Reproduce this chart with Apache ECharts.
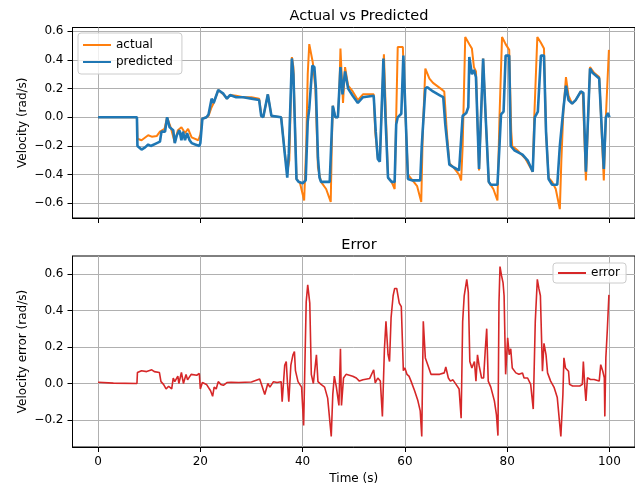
<!DOCTYPE html>
<html>
<head>
<meta charset="utf-8">
<script src="https://cdn.jsdelivr.net/npm/echarts@6/dist/echarts.min.js"></script>
<style>
html,body{margin:0;padding:0;background:#fff}
#main{width:635px;height:486px}
</style>
</head>
<body>
<div id="main"></div>
<script>
// values
var tActual = [0,7.6,7.7,8.5,9.8,10.5,11.5,12.1,13.0,13.5,14.2,15.0,15.6,16.3,17.0,17.6,18.3,19.6,20.0,20.4,21.2,21.6,22.2,22.6,23.5,24.5,25.2,25.8,27.0,28.4,30.0,31.5,31.9,32.3,33.2,33.9,35.8,36.5,37.0,37.4,37.9,38.2,38.8,39.5,40.3,40.7,41.0,41.3,41.6,42.0,42.5,43.0,43.6,44.6,45.5,45.7,45.9,46.4,46.9,47.2,47.4,47.7,47.9,48.3,48.9,49.8,50.8,51.8,53.9,54.2,54.7,55.1,55.5,55.9,56.3,56.7,57.4,58.0,58.3,58.6,59.6,59.9,60.6,61.5,62.4,63.2,63.5,64.0,64.8,65.5,67.0,67.7,68.2,68.7,69.5,70.6,71.0,71.3,71.8,72.6,73.1,73.5,73.9,74.5,75.0,75.3,75.8,76.4,77.3,78.1,78.5,79.0,79.7,80.4,80.8,81.0,82.0,83.6,85.0,85.3,85.9,86.6,87.2,87.6,88.1,88.8,89.5,90.3,90.6,91.0,91.5,92.0,92.7,93.4,94.4,94.8,95.4,96.2,97.0,98.0,98.9,99.3,99.9]
var actual = [0,0,-0.15,-0.16,-0.125,-0.135,-0.13,-0.10,-0.08,0.0,-0.07,-0.175,-0.09,-0.07,-0.11,-0.08,-0.14,-0.16,-0.12,-0.01,0.0,0.01,0.07,0.10,0.19,0.16,0.13,0.155,0.15,0.14,0.14,0.13,0.02,0.0,0.16,0.01,0.0,-0.24,-0.38,-0.30,0.42,0.35,-0.43,-0.46,-0.58,-0.20,0.30,0.51,0.51,0.38,0.20,-0.35,-0.45,-0.50,-0.59,-0.20,0.08,0.0,0.0,0.20,0.48,0.25,0.10,0.35,0.22,0.18,0.12,0.16,0.16,-0.10,-0.28,-0.30,0.10,0.44,0.0,-0.42,-0.45,-0.50,0.0,0.49,0.49,0.20,-0.40,-0.44,-0.48,-0.59,-0.10,0.34,0.27,0.24,0.20,0.18,-0.10,-0.32,-0.35,-0.40,-0.44,-0.20,0.56,0.51,0.48,0.35,0.32,-0.37,0.10,0.41,0.0,-0.45,-0.50,-0.58,0.0,0.56,0.51,0.47,-0.10,-0.20,-0.23,-0.29,-0.38,0.0,0.56,0.52,0.48,-0.10,-0.42,-0.45,-0.50,-0.64,-0.30,0.05,0.28,0.15,0.095,0.12,0.18,0.16,-0.44,0.35,0.31,0.28,-0.44,0.0,0.47]

var tPred = [0,7.6,7.7,8.5,9.2,9.8,10.3,11.5,12.1,12.4,13.1,13.5,14.0,14.7,15.0,15.4,15.9,16.3,16.6,17.0,17.4,17.9,18.3,19.0,19.8,20.0,20.4,21.2,21.6,22.2,22.6,23.5,24.5,25.2,25.8,27.0,28.4,30.0,31.5,31.9,32.3,33.2,33.9,35.8,36.5,37.0,37.3,37.9,38.2,38.8,39.2,40.0,40.6,41.0,41.3,41.6,41.9,42.3,42.6,43.0,43.3,43.6,45.3,45.9,46.4,46.9,47.4,47.8,48.3,48.9,49.8,50.8,51.8,53.9,54.3,54.7,55.1,55.5,55.8,56.2,56.7,57.4,58.0,58.3,58.6,59.3,59.7,60.0,60.6,61.5,63.0,63.3,64.0,64.4,65.5,67.0,67.5,67.9,68.7,69.6,70.6,71.3,72.0,72.4,72.6,73.1,73.5,73.9,74.5,75.3,75.8,76.4,76.8,78.1,78.5,78.8,79.3,79.7,80.4,80.7,81.4,83.0,84.0,85.0,85.4,86.0,86.6,87.2,87.6,88.1,88.8,89.8,90.3,91.0,91.5,92.0,92.7,93.4,94.4,94.9,95.4,96.2,96.7,98.0,98.9,99.3,99.7,100]
var predicted = [0,0,-0.20,-0.225,-0.21,-0.19,-0.20,-0.18,-0.17,-0.10,-0.10,0.0,-0.07,-0.09,-0.18,-0.125,-0.09,-0.16,-0.10,-0.16,-0.11,-0.16,-0.18,-0.19,-0.20,-0.18,-0.01,0.0,0.02,0.13,0.10,0.19,0.165,0.13,0.155,0.14,0.14,0.13,0.12,0.01,0.0,0.16,0.01,0.0,-0.25,-0.42,-0.25,0.41,0.30,-0.43,-0.45,-0.46,-0.44,-0.03,0.06,0.07,0.36,0.35,0.20,-0.28,-0.42,-0.45,-0.45,0.08,0.0,0.0,0.35,0.16,0.32,0.20,0.15,0.10,0.14,0.15,-0.10,-0.29,-0.31,0.10,0.41,0.0,-0.42,-0.45,-0.45,-0.05,0.0,0.025,0.43,0.43,-0.43,-0.44,-0.44,-0.20,0.20,0.21,0.18,0.15,0.14,-0.05,-0.33,-0.35,-0.37,0.01,0.03,0.07,0.42,0.30,0.33,0.28,-0.36,0.41,0.0,-0.45,-0.47,-0.47,-0.20,0.02,0.04,0.43,0.43,-0.20,-0.23,-0.26,-0.30,-0.38,0.0,0.04,0.43,0.43,-0.10,-0.43,-0.47,-0.47,-0.20,0.06,0.22,0.12,0.095,0.12,0.18,0.17,-0.38,0.34,0.31,0.27,-0.36,0.0,0.03,0.0]

var tErr = [0,3,7.6,7.7,8.5,9.5,10.5,11.0,12.0,12.3,12.8,13.3,13.8,14.4,14.7,15.0,15.6,15.8,16.3,16.7,17.2,17.5,18.2,19.3,19.8,20.0,20.4,21.2,21.5,22.0,22.4,22.7,23.1,23.5,24.0,24.5,25.2,26.0,27.5,30.0,31.6,31.9,32.6,33.2,33.6,34.3,35.0,35.8,36.0,36.5,36.8,37.0,37.3,37.7,38.1,38.4,38.6,39.1,39.8,40.2,40.7,41.0,41.4,41.7,42.1,42.7,43.0,43.6,44.3,44.9,45.6,45.9,46.2,46.6,47.1,47.4,47.6,48.0,48.5,49.8,50.5,51.1,51.8,53.1,53.9,54.2,54.7,55.2,55.6,56.0,56.3,56.7,57.0,57.3,57.7,58.0,58.4,58.9,59.3,59.7,60.0,60.4,60.8,61.2,61.9,62.5,63.0,63.3,63.6,64.0,64.5,65.1,65.8,66.8,67.7,68.0,68.5,68.9,69.4,70.0,70.6,71.0,71.3,71.6,72.1,72.4,72.7,73.1,73.6,73.9,74.2,74.5,75.0,75.4,75.7,76.0,76.3,76.8,77.5,77.9,78.2,78.4,78.6,78.9,79.2,79.4,79.7,80.1,80.4,80.7,81.0,81.7,82.3,83.0,83.3,84.0,84.6,85.1,85.5,85.9,86.2,86.5,86.9,87.2,87.6,87.9,88.5,89.2,89.8,90.5,90.9,91.1,91.4,92.0,92.2,92.8,94.2,94.7,94.9,95.2,95.4,95.7,96.3,97.0,98.0,98.3,98.7,99.0,99.1,99.3,99.6,99.9]
var error = [0.007,0.002,0,0.06,0.07,0.065,0.075,0.065,0.06,0.01,-0.005,-0.03,-0.015,-0.03,0.03,0.01,0.04,0.0,0.06,0.0,0.05,0.02,0.05,0.045,0.055,-0.03,0.005,-0.005,0.005,-0.04,-0.07,-0.02,-0.03,0.01,-0.005,-0.01,0.005,0.007,0.005,0.008,0.025,0.0,-0.06,0.0,-0.02,0.01,0.005,0.01,-0.10,0.10,0.12,0.02,-0.10,0.10,0.155,0.175,0.07,0.01,-0.02,-0.23,0.445,0.54,0.44,0.05,0.0,0.157,0.01,-0.005,-0.02,-0.08,-0.29,-0.06,0.04,-0.02,-0.12,0.19,-0.12,0.03,0.05,0.04,0.03,0.013,0.02,0.027,0.075,0.003,0.03,0.013,-0.18,0.19,0.34,0.16,0.12,0.36,0.48,0.52,0.52,0.44,0.42,0.07,0.085,0.05,0.04,0.013,-0.04,-0.09,-0.15,-0.29,0.34,0.14,0.10,0.05,0.05,0.05,0.058,0.09,0.03,0.013,0.02,-0.005,-0.03,-0.19,0.34,0.48,0.57,0.50,0.12,0.085,0.12,0.013,0.157,0.10,0.03,0.03,0.175,0.30,0.013,-0.02,-0.095,-0.17,-0.285,0.44,0.64,0.59,0.55,0.48,0.05,0.25,0.157,0.19,0.085,0.058,0.05,0.058,0.03,0.03,-0.005,-0.14,0.34,0.57,0.52,0.48,0.067,0.22,0.157,0.058,0.013,-0.023,-0.077,-0.29,-0.06,0.14,0.085,0.067,-0.005,-0.014,-0.014,-0.005,0.12,-0.023,-0.095,0.031,0.022,0.022,0.013,0.103,0.067,0.031,-0.18,0.14,0.30,0.485]

var xTicks = [0,20,40,60,80,100]
var velTicks = [-0.6,-0.4,-0.2,0,0.2,0.4,0.6]
var errTicks = [-0.2,0,0.2,0.4,0.6]

function pairs(t, v){
	var out = []
	for (var i = 0; i < t.length; i++) out.push([t[i], v[i]])
	return out
}

function fmt(v){
	return v.toFixed(1).replace('-', '\u2212')
}

var font = 'DejaVu Sans'
var gridLine = {show: true, lineStyle: {color: '#b0b0b0', width: 1}}

function xAxisOf(idx, labels){
	return {
		type: 'value', gridIndex: idx, min: -5, max: 105,
		axisLine: {show: true, onZero: false, lineStyle: {color: '#000', width: 1}},
		axisTick: {show: true, length: 5, customValues: xTicks, lineStyle: {color: '#000'}},
		axisLabel: {show: labels, customValues: xTicks, margin: 9, color: '#000', fontSize: 12, fontFamily: font},
		splitLine: gridLine,
		name: labels ? 'Time (s)' : '', nameLocation: 'middle', nameGap: 26,
		nameTextStyle: {color: '#000', fontSize: 12, fontFamily: font}
	}
}

function yAxisOf(idx, min, max, ticks, name){
	return {
		type: 'value', gridIndex: idx, min: min, max: max,
		axisLine: {show: true, onZero: false, lineStyle: {color: '#000', width: 1}},
		axisTick: {show: true, length: 5, customValues: ticks, lineStyle: {color: '#000'}},
		axisLabel: {customValues: ticks, margin: 9, color: '#000', fontSize: 12, fontFamily: font, formatter: fmt},
		splitLine: gridLine,
		name: name, nameLocation: 'middle', nameGap: 44, nameMoveOverlap: false,
		nameTextStyle: {color: '#000', fontSize: 12, fontFamily: font}
	}
}

var chart = echarts.init(document.getElementById('main'))

var legendBox = {
	icon: 'rect', itemWidth: 28, itemHeight: 2,
	backgroundColor: 'rgba(255,255,255,0.8)', borderColor: '#ccc', borderWidth: 1, borderRadius: 3,
	textStyle: {fontSize: 12, color: '#000', fontFamily: font}
}

var option = {
	animation: false,
	backgroundColor: '#fff',
	textStyle: {fontFamily: font},
	title: [
		{text: 'Actual vs Predicted', left: 354, textAlign: 'center', top: 4,
			textStyle: {fontSize: 14.5, fontWeight: 'normal', color: '#000', fontFamily: font}},
		{text: 'Error', left: 354, textAlign: 'center', top: 233,
			textStyle: {fontSize: 14.5, fontWeight: 'normal', color: '#000', fontFamily: font}}
	],
	grid: [
		{left: 72.5, right: -1, top: 27.5, height: 190.5, show: true, borderColor: '#000', borderWidth: 1, backgroundColor: 'transparent'},
		{left: 72.5, right: -1, top: 256, height: 191, show: true, borderColor: '#000', borderWidth: 1, backgroundColor: 'transparent'}
	],
	legend: [
		Object.assign({data: ['actual', 'predicted'], orient: 'vertical', left: 78, top: 33,
			itemGap: 5, padding: [6, 9, 6, 5]}, legendBox),
		Object.assign({data: ['error'], left: 553, top: 263, padding: [4, 6, 4, 5]}, legendBox)
	],
	xAxis: [xAxisOf(0, false), xAxisOf(1, true)],
	yAxis: [
		yAxisOf(0, -0.702, 0.626, velTicks, 'Velocity (rad/s)'),
		yAxisOf(1, -0.3475, 0.6975, errTicks, 'Velocity error (rad/s)')
	],
	series: [
		{name: 'actual', type: 'line', xAxisIndex: 0, yAxisIndex: 0, symbol: 'none',
			data: pairs(tActual, actual), color: '#ff7f0e', lineStyle: {width: 2, color: '#ff7f0e'}},
		{name: 'predicted', type: 'line', xAxisIndex: 0, yAxisIndex: 0, symbol: 'none',
			data: pairs(tPred, predicted), color: '#1f77b4', lineStyle: {width: 2.6, color: '#1f77b4'}},
		{name: 'error', type: 'line', xAxisIndex: 1, yAxisIndex: 1, symbol: 'none',
			data: pairs(tErr, error), color: '#d62728', lineStyle: {width: 1.6, color: '#d62728'}}
	]
}

chart.setOption(option)
</script>
</body>
</html>
